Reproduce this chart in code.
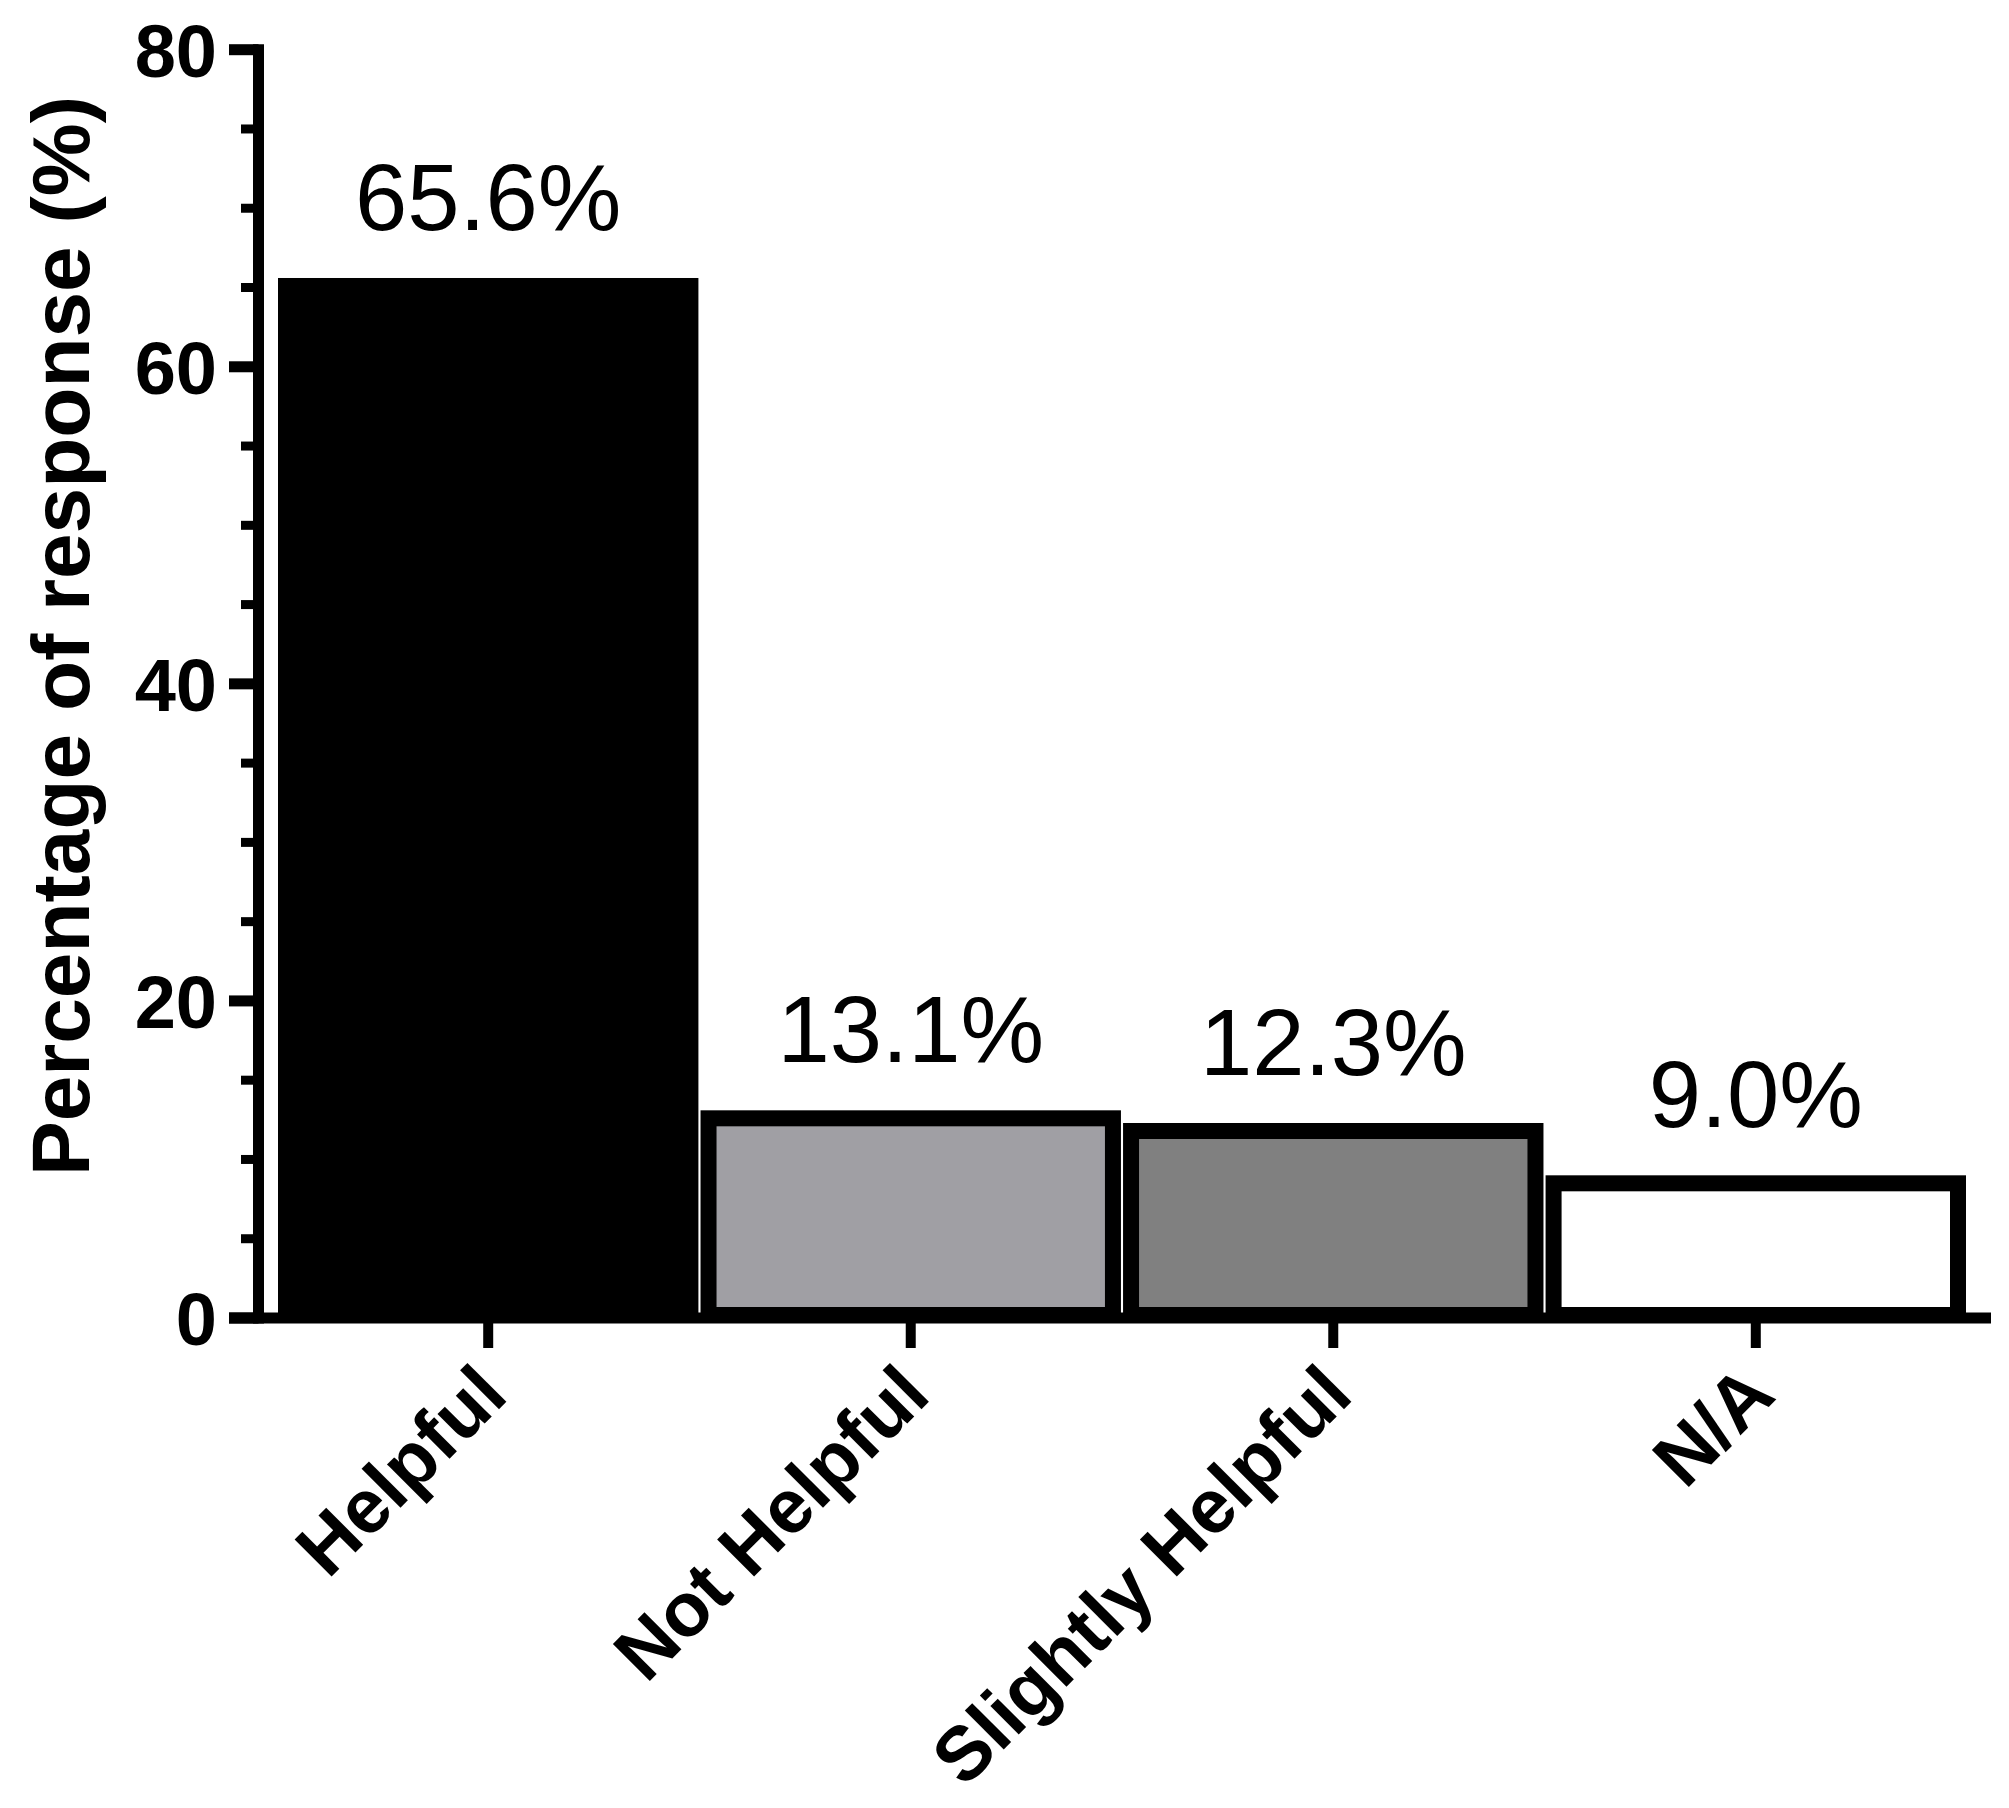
<!DOCTYPE html>
<html>
<head>
<meta charset="utf-8">
<script src="https://cdn.jsdelivr.net/npm/d3@7"></script>
<style>
  body { margin: 0; background: #fff; }
  text { font-family: 'Liberation Sans', Arial, sans-serif; }
</style>
</head>
<body>
<svg></svg>
<script>
const categories = ['Helpful', 'Not Helpful', 'Slightly Helpful', 'N/A']
const values = [65.6, 13.1, 12.3, 9.0]
const valueLabels = ['65.6%', '13.1%', '12.3%', '9.0%']
const fills = ['#000000', '#a09fa4', '#808080', '#ffffff']
const yMajorTicks = [0, 20, 40, 60, 80]
const yMinorTicks = [5, 10, 15, 25, 30, 35, 45, 50, 55, 65, 70, 75]
const yTitle = 'Percentage of response (%)'

const width = 2009
const height = 1808

const svg = d3
  .select('svg')
  .attr('width', width)
  .attr('height', height)

const x = d3
  .scaleBand()
  .domain(categories)
  .range([278, 1966])
  .paddingInner(0.005)

const y = d3
  .scaleLinear()
  .domain([0, 80])
  .range([1318, 49.7])

const sw = 16 // bar border
const bars = svg.append('g')
  .selectAll('rect')
  .data(categories)
  .enter()
  .append('rect')
  .attr('x', d => x(d) + sw / 2)
  .attr('width', x.bandwidth() - sw)
  .attr('y', (d, i) => y(values[i]) + sw / 2)
  .attr('height', (d, i) => (y(0) + 5) - y(values[i]) - sw)
  .attr('fill', (d, i) => fills[i])
  .attr('stroke', '#000')
  .attr('stroke-width', sw)

// value labels
svg.append('g')
  .selectAll('text')
  .data(categories)
  .enter()
  .append('text')
  .attr('x', d => x(d) + x.bandwidth() / 2)
  .attr('y', (d, i) => y(values[i]) - 48)
  .attr('text-anchor', 'middle')
  .attr('font-size', 94)
  .attr('fill', '#000')
  .text((d, i) => valueLabels[i])

// y axis
const axisX = 258.5
const ya = svg.append('g')
ya.append('line')
  .attr('x1', axisX)
  .attr('x2', axisX)
  .attr('y1', y(80) - 5.5)
  .attr('y2', y(0) + 5.5)
  .attr('stroke', '#000')
  .attr('stroke-width', 11)

ya.selectAll('line.major')
  .data(yMajorTicks)
  .enter()
  .append('line')
  .attr('class', 'major')
  .attr('x1', 229)
  .attr('x2', axisX)
  .attr('y1', d => y(d))
  .attr('y2', d => y(d))
  .attr('stroke', '#000')
  .attr('stroke-width', 11)

ya.selectAll('line.minor')
  .data(yMinorTicks)
  .enter()
  .append('line')
  .attr('class', 'minor')
  .attr('x1', 241)
  .attr('x2', axisX)
  .attr('y1', d => y(d))
  .attr('y2', d => y(d))
  .attr('stroke', '#000')
  .attr('stroke-width', 9)

ya.selectAll('text')
  .data(yMajorTicks)
  .enter()
  .append('text')
  .attr('x', 217)
  .attr('y', d => y(d) + 27)
  .attr('text-anchor', 'end')
  .attr('font-size', 74)
  .attr('font-weight', 'bold')
  .text(d => d)

svg.append('text')
  .attr('transform', `translate(89, 636) rotate(-90)`)
  .attr('text-anchor', 'middle')
  .attr('font-size', 82)
  .attr('font-weight', 'bold')
  .text(yTitle)

// x axis
const xa = svg.append('g')
xa.append('line')
  .attr('x1', 229)
  .attr('x2', 1991)
  .attr('y1', y(0))
  .attr('y2', y(0))
  .attr('stroke', '#000')
  .attr('stroke-width', 11)

xa.selectAll('line.tick')
  .data(categories)
  .enter()
  .append('line')
  .attr('class', 'tick')
  .attr('x1', d => x(d) + x.bandwidth() / 2)
  .attr('x2', d => x(d) + x.bandwidth() / 2)
  .attr('y1', y(0))
  .attr('y2', 1348)
  .attr('stroke', '#000')
  .attr('stroke-width', 10)

xa.selectAll('text')
  .data(categories)
  .enter()
  .append('text')
  .attr('transform', d => `translate(${x(d) + x.bandwidth() / 2 + 22}, 1398) rotate(-45)`)
  .attr('text-anchor', 'end')
  .attr('font-size', 76)
  .attr('font-weight', 'bold')
  .text(d => d)
</script>
</body>
</html>
